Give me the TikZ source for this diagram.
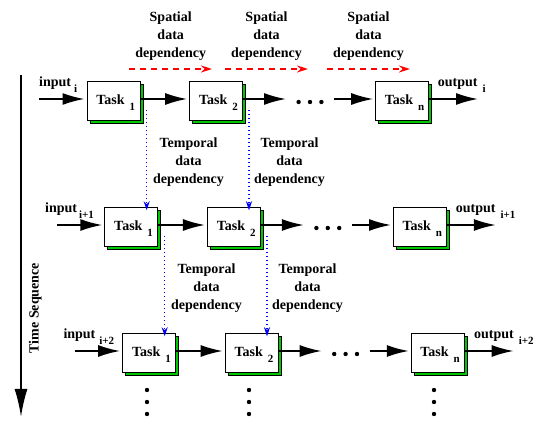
\documentclass[tikz,border=0pt]{standalone}
\usepackage{fontspec}
\setmainfont{Liberation Serif}
\usetikzlibrary{arrows.meta,shadows}
\definecolor{sgreen}{RGB}{0,200,0}
\newcommand{\subsz}{\fontsize{11}{11}\selectfont}
\newcommand{\lowsub}[2][5.7pt]{\raisebox{-#1}{\subsz #2}}
\begin{document}
\begin{tikzpicture}[x=1pt,y=-1pt,
  font=\fontsize{14}{18}\selectfont\bfseries,
  taskbox/.style={draw=black, line width=1pt, fill=white,
    minimum width=53pt, minimum height=39.4pt, inner sep=0pt,
    text height=9.5pt, text depth=1.5pt,
    drop shadow={shadow xshift=3pt, shadow yshift=-3pt, fill=sgreen,
      draw=black, line width=1pt, opacity=1}},
  flow/.style={line width=1.8pt, -{Latex[length=22pt,width=12pt]}, shorten >=2pt},
  spatial/.style={red, line width=2pt, dash pattern=on 6pt off 5pt,
    -{Stealth[length=11pt,width=7pt]}},
  temporal/.style={blue, line width=1.3pt, dash pattern=on 1.3pt off 2.7pt,
    -{Stealth[length=9pt,width=6pt]}, shorten >=-3.5pt},
  deplabel/.style={align=center, anchor=north, inner sep=0pt},
  dot/.style={fill=black}
]
\useasboundingbox (0,0) rectangle (549,435);
\fill[white] (0,0) rectangle (549,435);

% time axis
\coordinate (ttop) at (21,75);
\coordinate (tbot) at (21,417);
\draw[line width=2pt, -{Latex[length=28pt,width=13pt]}] (ttop) -- (tbot);
\node[rotate=90, anchor=base, inner sep=0pt] (tseq) at (38.6,308) {Time Sequence};

% spatial dependencies
\foreach \i/\a/\b in {1/129/212, 2/225/308, 3/327/410} {
  \coordinate (sa\i) at (\a,69);
  \coordinate (sb\i) at (\b,69);
  \draw[spatial] (sa\i) -- (sb\i);
}
\node[deplabel] (sl1) at (170.7,11.2) {Spatial\\data\\dependency};
\node[deplabel] (sl2) at (266.5,11.2) {Spatial\\data\\dependency};
\node[deplabel] (sl3) at (368.5,11.2) {Spatial\\data\\dependency};

% rows
\foreach \r/\s/\ix/\ox/\ig in {0/i/39/437.7/3pt, 1/i+1/45/455.7/2pt, 2/i+2/63.3/474/4pt} {
  \pgfmathsetmacro\dx{17.8*\r}
  \pgfmathsetmacro\dy{126*\r}
  \node[taskbox] (t\r1) at (113.5+\dx,101+\dy) {\hspace{4.6pt}Task\hspace{5pt}\lowsub{1}};
  \node[taskbox] (t\r2) at (216.1+\dx,101+\dy) {\hspace{4.6pt}Task\hspace{5pt}\lowsub{2}};
  \node[taskbox] (t\r3) at (402.2+\dx,101+\dy) {\hspace{4.6pt}Task\hspace{5pt}\lowsub{n}};
  \coordinate (in\r) at (39+\dx,99+\dy);
  \coordinate (da\r) at (288+\dx,99+\dy);
  \coordinate (db\r) at (334+\dx,99+\dy);
  \coordinate (out\r) at (480+\dx,99+\dy);
  \draw[flow] (in\r) -- ([yshift=2pt]t\r1.west);
  \draw[flow] ([yshift=2pt]t\r1.east) -- ([yshift=2pt]t\r2.west);
  \draw[flow] ([yshift=2pt]t\r2.east) -- (da\r);
  \draw[flow] (db\r) -- ([yshift=2pt]t\r3.west);
  \draw[flow] ([yshift=2pt]t\r3.east) -- (out\r);
  \foreach \k in {0,1,2}
    \fill[dot] (298.6+\dx+11.4*\k,102+\dy) circle[radius=2.2pt];
  \node[anchor=base west, inner sep=0pt] (il\r) at (\ix,86.5+\dy)
    {input\hspace{\ig}\lowsub[6pt]{\s}};
  \node[anchor=base west, inner sep=0pt] (ol\r) at (\ox,86.7+\dy)
    {output\hspace{5pt}\lowsub[5.5pt]{\s}};
}

% temporal dependencies
\foreach \r in {0,1} {
  \pgfmathsetmacro\dx{18*\r}
  \pgfmathsetmacro\dy{126*\r}
  \pgfmathtruncatemacro\rn{\r+1}
  \coordinate (bs\r1) at (146.7+\dx,110+\dy);
  \coordinate (bs\r2) at (249+\dx,110+\dy);
  \draw[temporal] (bs\r1) -- (bs\r1 |- t\rn1.north);
  \draw[temporal] (bs\r2) -- (bs\r2 |- t\rn2.north);
  \node[deplabel] (tl\r1) at (188.5+\dx,137.2+\dy) {Temporal\\data\\dependency};
  \node[deplabel] (tl\r2) at (289.5+\dx,137.2+\dy) {Temporal\\data\\dependency};
}

% continuation dots
\foreach \x in {147,249,434}
  \foreach \y in {390,402,414}
    \fill[dot] (\x,\y) circle[radius=2.2pt];
\end{tikzpicture}
\end{document}
